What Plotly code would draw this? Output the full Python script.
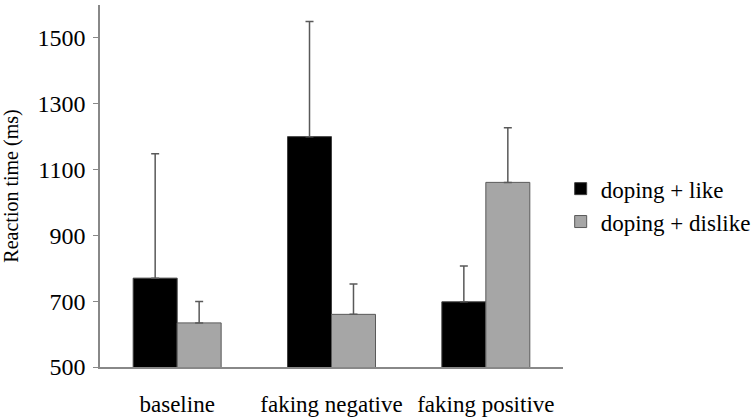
import plotly.graph_objects as go

categories = ["baseline", "faking negative", "faking positive"]
like_vals = [770, 1200, 698]
like_err = [378, 350, 109]
dislike_vals = [634, 660, 1061]
dislike_err = [65, 92, 166]
y_ticks = [500, 700, 900, 1100, 1300, 1500]

font = "Times New Roman, Liberation Serif, DejaVu Serif, serif"

fig = go.Figure()
fig.add_trace(go.Bar(
    x=categories, y=like_vals, name="doping + like", legendgroup="a",
    marker=dict(color="#000000", line=dict(color="#404040", width=1)),
    error_y=dict(type="data", array=like_err, symmetric=False, arrayminus=[0]*3,
                 color="#595959", thickness=1.5, width=4),
))
fig.add_trace(go.Bar(
    x=categories, y=dislike_vals, name="doping + dislike", legendgroup="b",
    marker=dict(color="#a6a6a6", line=dict(color="#595959", width=1)),
    error_y=dict(type="data", array=dislike_err, symmetric=False, arrayminus=[0]*3,
                 color="#595959", thickness=1.5, width=4),
))

fig.update_layout(
    width=756, height=420,
    margin=dict(l=100, r=193, t=5, b=53, autoexpand=False),
    paper_bgcolor="white", plot_bgcolor="white",
    barmode="group", bargap=0.43, bargroupgap=0,
    font=dict(family=font, size=22, color="#000000"),
    showlegend=True,
    legend=dict(x=0.995, y=0.447, xanchor="left", yanchor="middle",
                font=dict(family=font, size=23, color="#000000"), itemwidth=30,
                traceorder="grouped", tracegroupgap=0, bgcolor="rgba(0,0,0,0)"),
    xaxis=dict(showline=True, linecolor="#888888", linewidth=1.5,
               showgrid=False, ticks="", ticklabelstandoff=16, automargin=False,
               tickfont=dict(family=font, size=23, color="#000000")),
    yaxis=dict(range=[500, 1600], tickvals=y_ticks, showline=True,
               linecolor="#888888", linewidth=1.5, showgrid=False,
               ticks="outside", ticklen=5, tickcolor="#888888",
               zeroline=False, automargin=False, ticklabelstandoff=3,
               tickfont=dict(family=font, size=24, color="#000000"),
               title=dict(text="Reaction time (ms)",
                          font=dict(family=font, size=20, color="#000000"),
                          standoff=15)),
)

fig.write_html("out.html", config={"displayModeBar": False},
               post_script="document.body.style.margin='0';document.body.style.padding='0';")
